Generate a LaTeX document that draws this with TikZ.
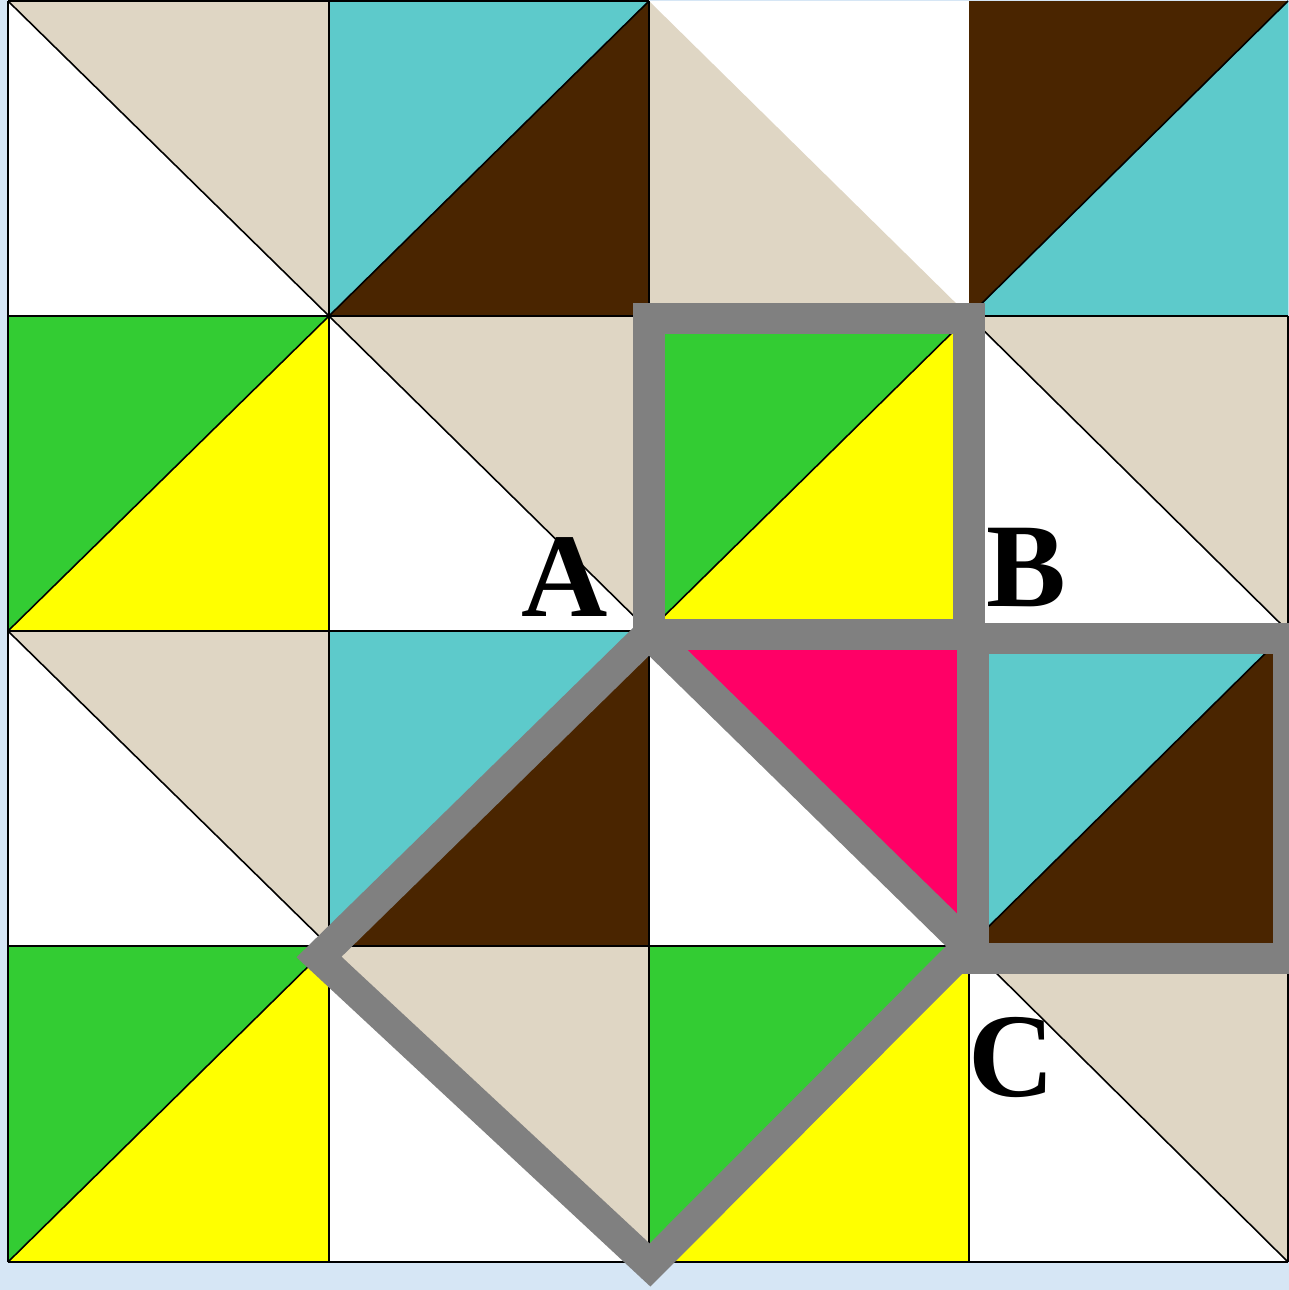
\documentclass[tikz,border=0pt]{standalone}
\usepackage{fontspec}
\setmainfont{Liberation Serif}
\usepackage{xcolor}

\definecolor{sandTile}{HTML}{DFD6C4}
\definecolor{aquaTile}{HTML}{5DCACB}
\definecolor{umberTile}{HTML}{4A2500}
\definecolor{grassTile}{HTML}{33CC33}
\definecolor{lemonTile}{HTML}{FFFF00}
\definecolor{roseTile}{HTML}{FF0066}
\definecolor{frameGray}{HTML}{808080}
\definecolor{skyBack}{HTML}{D6E6F5}

\begin{document}
\begin{tikzpicture}[
		x=0.01cm, y=-0.01cm,
		edge/.style={draw=black, line width=0.45pt},
		frame/.style={draw=frameGray, line width=0.31cm, line join=miter},
		letter/.style={inner sep=0pt, font=\fontsize{34}{40}\selectfont\bfseries}
		]
		
		% Background
		\fill[skyBack] (0,0) rectangle (1289,1290);
		\useasboundingbox (0,0) rectangle (1289,1290);
		
		% Grid corners
		\foreach \xv [count=\i from 0] in {8,329,649,969,1288}
			\foreach \yv [count=\j from 0] in {1,316,631,946,1262}
				\coordinate (g-\i-\j) at (\xv,\yv);
		\fill[white] (g-0-0) rectangle (g-4-4);
		
		% Cells with a falling diagonal
		\foreach \c/\r/\ca/\cb [evaluate=\c as \cn using int(\c+1), evaluate=\r as \rn using int(\r+1)] in
			{0/0/sandTile/white, 1/1/sandTile/white, 3/1/sandTile/white, 0/2/sandTile/white,
			 2/2/roseTile/white, 1/3/sandTile/white, 3/3/sandTile/white} {
			\fill[\ca] (g-\c-\r) -- (g-\cn-\r) -- (g-\cn-\rn) -- cycle;
			\fill[\cb] (g-\c-\r) -- (g-\c-\rn) -- (g-\cn-\rn) -- cycle;
			\draw[edge] (g-\c-\r) -- (g-\cn-\rn);
		}
		
		% Cells with a rising diagonal
		\foreach \c/\r/\ca/\cb [evaluate=\c as \cn using int(\c+1), evaluate=\r as \rn using int(\r+1)] in
			{1/0/aquaTile/umberTile, 3/0/umberTile/aquaTile, 0/1/grassTile/lemonTile, 2/1/grassTile/lemonTile,
			 1/2/aquaTile/umberTile, 3/2/aquaTile/umberTile, 0/3/grassTile/lemonTile, 2/3/grassTile/lemonTile} {
			\fill[\ca] (g-\c-\r) -- (g-\cn-\r) -- (g-\c-\rn) -- cycle;
			\fill[\cb] (g-\cn-\r) -- (g-\cn-\rn) -- (g-\c-\rn) -- cycle;
			\draw[edge] (g-\c-\rn) -- (g-\cn-\r);
		}
		
		% Top cell without lines
		\fill[sandTile] (g-2-0) -- (g-2-1) -- (g-3-1) -- cycle;
		
		% Grid lines
		\foreach \j in {1,...,4} \draw[edge] (g-0-\j) -- (g-4-\j);
		\draw[edge] (g-0-0) -- (g-2-0);
		\foreach \i in {0,...,4} \draw[edge] (g-\i-1) -- (g-\i-4);
		\foreach \i in {0,1,2} \draw[edge] (g-\i-0) -- (g-\i-1);
		
		% Squares on the sides
		\draw[frame] (649,318) rectangle (969,634);
		\draw[frame] (973,638) rectangle (1289,958);
		\draw[frame] (649,634) -- (319,957) -- (650,1265) -- (968,946) -- cycle;
		
		% Labels
		\node[letter] (labelA) at (565,577) {A};
		\node[letter] (labelB) at (1026,568) {B};
		\node[letter] (labelC) at (1012,1057) {C};
		
	\end{tikzpicture}
\end{document}
